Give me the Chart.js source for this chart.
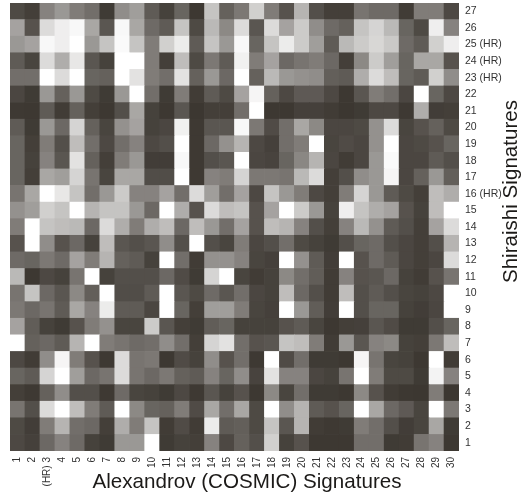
<!DOCTYPE html>
<html>
<head>
<meta charset="utf-8">
<title>Signatures</title>
<script src="https://cdn.jsdelivr.net/npm/chart.js@4/dist/chart.umd.min.js"></script>
<style>
  body { margin: 0; background: #fff; }
  canvas { display: block; }
</style>
</head>
<body>
<canvas id="myChart" width="525" height="497"></canvas>
<script>
const categories = ['1','2','(HR) 3','4','5','6','7','8','9','10','11','12','13','14','15','16','17','18','19','20','21','22','23','24','25','26','27','28','29','30'];
const rowLabels = ['1','2','3','4','5','6','7','8','9','10','11','12','13','14','15','16 (HR)','17','18','19','20','21','22','23 (HR)','24 (HR)','25 (HR)','26','27'];

// similarity per cell, 0 = dark, 100 = white
const row27 = [15,8,45,55,42,35,5,50,58,25,10,30,3,75,28,40,80,42,20,68,18,8,8,38,33,33,6,42,42,14];
const row26 = [60,20,85,93,97,62,22,97,62,33,25,75,15,70,48,85,22,85,60,78,50,33,28,75,82,70,30,15,93,45];
const row25 = [55,60,97,93,100,55,75,98,75,42,80,92,25,75,55,97,30,75,92,78,58,25,70,78,83,77,33,25,80,93];
const row24 = [25,12,85,65,90,22,10,100,100,42,8,72,15,40,25,94,42,60,32,38,42,32,8,48,78,58,30,62,62,20];
const row23 = [35,35,100,85,100,30,28,100,88,42,35,88,28,55,32,100,28,70,55,52,50,27,25,65,85,72,30,25,80,50];
const row22 = [13,5,55,28,55,15,5,55,100,35,5,42,6,25,15,60,96,28,14,24,24,14,3,22,42,35,13,100,30,14];
const row21 = [4,3,25,6,28,8,3,18,62,10,3,22,2,8,8,35,100,3,3,9,9,6,2,5,14,14,4,65,7,8];
const row20 = [25,5,55,32,82,28,12,52,60,10,13,94,4,22,22,97,40,16,35,62,48,13,13,15,52,85,12,20,28,15];
const row19 = [30,8,42,18,72,35,14,35,45,14,18,100,4,32,52,68,14,9,35,42,100,12,16,13,52,100,13,15,20,30];
const row18 = [30,10,45,22,88,28,8,42,55,7,7,97,4,18,22,100,13,11,30,47,68,13,6,13,55,98,13,13,25,18];
const row17 = [30,8,62,58,82,38,12,62,62,17,17,100,4,45,42,82,40,40,38,70,85,8,18,50,55,96,13,28,55,27];
const row16 = [38,62,100,90,75,35,55,78,45,45,60,35,85,58,35,60,14,75,55,42,14,8,42,82,55,25,15,8,72,65];
const row15 = [52,58,80,75,100,68,75,75,55,32,100,65,20,85,72,75,20,60,100,78,55,10,93,75,65,60,20,10,72,100];
const row14 = [42,100,75,72,70,32,85,65,42,65,72,32,72,55,35,60,20,72,68,45,18,8,45,70,52,25,18,8,60,85];
const row13 = [20,100,50,20,32,10,72,22,18,22,50,18,100,18,12,42,13,18,35,15,10,5,18,30,33,18,13,8,18,68];
const row12 = [33,30,40,33,60,42,68,28,25,10,100,35,6,52,52,45,12,9,100,52,25,7,100,20,33,25,13,8,13,85];
const row11 = [70,3,14,10,38,100,10,18,18,18,32,16,5,82,100,12,6,10,48,35,26,6,45,20,22,32,10,6,20,38];
const row10 = [38,75,32,22,48,27,100,17,17,25,100,22,15,33,22,35,13,10,72,32,18,6,72,18,25,18,12,10,14,100];
const row9 = [40,32,38,25,62,45,92,25,25,13,100,30,8,58,58,42,12,9,100,55,26,7,100,18,30,30,10,7,13,100];
const row8 = [60,26,10,5,20,42,52,12,12,78,22,8,5,26,30,10,10,10,20,25,12,3,8,9,22,16,5,5,18,30];
const row7 = [100,28,32,25,68,100,42,38,33,35,50,35,8,82,88,35,20,22,75,72,42,6,55,22,45,48,10,8,40,72];
const row6 = [14,6,50,96,42,20,4,85,38,40,3,16,10,50,20,35,4,100,16,35,5,5,3,96,38,12,10,3,100,6];
const row5 = [30,25,82,100,58,32,38,85,38,32,40,28,25,45,30,50,11,88,45,45,13,10,38,100,42,15,15,5,95,45];
const row4 = [8,4,28,50,18,18,4,33,12,10,5,14,4,22,10,20,3,48,12,35,5,5,3,48,20,6,3,2,42,2];
const row3 = [38,18,85,100,72,42,25,100,48,30,28,42,16,62,35,62,15,100,50,68,25,20,30,100,62,32,24,12,100,40];
const row2 = [15,7,42,68,35,32,8,65,42,75,6,16,6,92,25,27,15,75,22,68,6,4,5,42,35,18,7,12,62,5];
const row1 = [14,9,32,45,33,10,5,55,55,100,5,10,8,45,14,28,18,80,10,20,3,3,3,35,35,5,6,38,45,3];

const rows = [row1,row2,row3,row4,row5,row6,row7,row8,row9,row10,row11,row12,row13,row14,row15,row16,row17,row18,row19,row20,row21,row22,row23,row24,row25,row26,row27];

function shade(v){
    const t = Math.pow(v / 100, 1.2);
    const r = Math.round(58 + (255 - 58) * t);
    const g = Math.round(53 + (255 - 53) * t);
    const b = Math.round(47 + (255 - 47) * t);
    return 'rgb(' + r + ',' + g + ',' + b + ')';
}

// each row is one dataset of floating bars, so a cell is one bar
const datasets = rows.map(function(vals, i){
    return {
        label: rowLabels[i],
        data: vals.map(function(){ return [i + 0.5, i + 1.5]; }),
        backgroundColor: vals.map(shade),
        borderWidth: 0,
        barPercentage: 1,
        categoryPercentage: 1
    };
});

const axisTitles = {
    id: 'axisTitles',
    afterDraw(chart){
        const c = chart.ctx;
        c.save();
        c.fillStyle = '#1c1a18';
        c.font = '20.6px "Liberation Sans"';
        c.textAlign = 'center';
        c.textBaseline = 'alphabetic';
        c.fillText('Alexandrov (COSMIC) Signatures', 247, 488);
        c.translate(517, 191.5);
        c.rotate(-Math.PI / 2);
        c.fillText('Shiraishi Signatures', 0, 0);
        c.restore();
    }
};

const ctx = document.getElementById('myChart');
const myChart = new Chart(ctx, {
    type: 'bar',
    data: { labels: categories, datasets: datasets },
    plugins: [axisTitles],
    options: {
        responsive: false,
        animation: false,
        layout: { padding: { left: 10, top: 3, right: 0, bottom: 0 } },
        plugins: {
            legend: { display: false },
            tooltip: { enabled: false }
        },
        scales: {
            x: {
                grid: { display: false, tickLength: 0 },
                border: { display: false },
                ticks: {
                    autoSkip: false,
                    minRotation: 90,
                    maxRotation: 90,
                    padding: 6,
                    color: '#333',
                    font: { family: '"Liberation Sans"', size: 10 }
                },
                afterFit: function(scale){
                    scale.height = 46;
                    scale.paddingLeft = 0;
                    scale.paddingRight = 0;
                }
            },
            y: {
                position: 'right',
                min: 0.5,
                max: 27.5,
                grid: { display: false, tickLength: 0 },
                border: { display: false },
                afterBuildTicks: function(scale){
                    scale.ticks = rowLabels.map(function(l, i){ return { value: i + 1 }; });
                },
                ticks: {
                    autoSkip: false,
                    padding: 6,
                    color: '#333',
                    font: { family: '"Liberation Sans"', size: 10.5 },
                    callback: function(value, index){ return rowLabels[index]; }
                },
                afterFit: function(scale){
                    scale.width = 66;
                    scale.paddingTop = 0;
                    scale.paddingBottom = 0;
                }
            }
        },
        datasets: { bar: { grouped: false } }
    }
});
</script>
</body>
</html>
